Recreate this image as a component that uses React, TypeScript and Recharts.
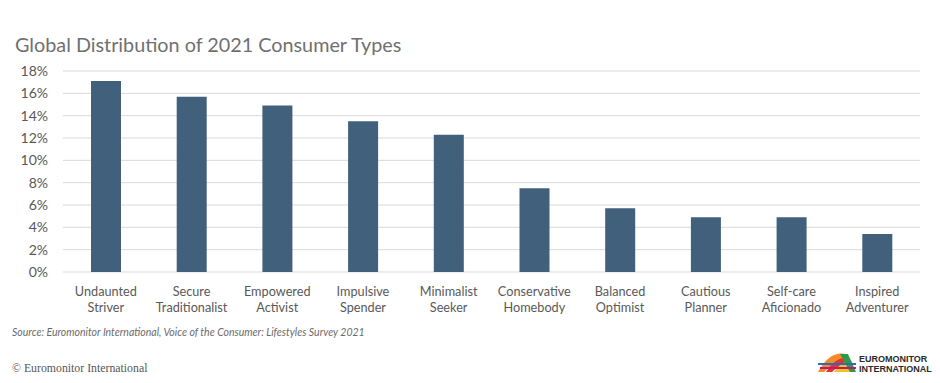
import React from "react";
import { BarChart, Bar, XAxis, YAxis, CartesianGrid } from "recharts";

const categories = [
  "Undaunted Striver",
  "Secure Traditionalist",
  "Empowered Activist",
  "Impulsive Spender",
  "Minimalist Seeker",
  "Conservative Homebody",
  "Balanced Optimist",
  "Cautious Planner",
  "Self-care Aficionado",
  "Inspired Adventurer",
];
const shares = [17.1, 15.7, 14.9, 13.5, 12.3, 7.5, 5.7, 4.9, 4.9, 3.4];
const yTicks = [0, 2, 4, 6, 8, 10, 12, 14, 16, 18];

const title = "Global Distribution of 2021 Consumer Types";
const source = "Source: Euromonitor International, Voice of the Consumer: Lifestyles Survey 2021";
const copyright = "© Euromonitor International";

const data = categories.map((c, i) => ({ name: c, value: shares[i] }));

const LABEL_COLOR = "#595959";
const FONT = "Lato, 'Open Sans', sans-serif";

const XTick = (props: any) => {
  const { x, y, payload } = props;
  const s: string = payload.value;
  const idx = s.indexOf(" ");
  const l1 = idx > 0 ? s.slice(0, idx) : s;
  const l2 = idx > 0 ? s.slice(idx + 1) : "";
  return (
    <g>
      <text x={x} y={y + 24} textAnchor="middle" fill={LABEL_COLOR} fontSize={12.7} fontFamily={FONT}>
        {l1}
      </text>
      <text x={x} y={y + 40} textAnchor="middle" fill={LABEL_COLOR} fontSize={12.7} fontFamily={FONT}>
        {l2}
      </text>
    </g>
  );
};

export default function App() {
  return (
    <div style={{ position: "absolute", left: 0, top: 0, width: 940, height: 383, background: "#fff" }}>
      <BarChart
        width={940}
        height={383}
        data={data}
        margin={{ top: 71, right: 20, bottom: 0, left: 0 }}
        barCategoryGap={0}
      >
        <CartesianGrid vertical={false} stroke="#d9d9d9" strokeWidth={1} />
        <XAxis
          dataKey="name"
          axisLine={false}
          tickLine={false}
          tickSize={0}
          tickMargin={0}
          interval={0}
          tick={<XTick />}
          height={111}
        />
        <YAxis
          domain={[0, 18]}
          ticks={yTicks}
          interval={0}
          width={63}
          axisLine={false}
          tickLine={false}
          tickSize={0}
          tickMargin={15}
          tickFormatter={(v: number) => `${v}%`}
          tick={{ fill: LABEL_COLOR, fontSize: 14, fontFamily: FONT }}
        />
        <Bar dataKey="value" fill="#40607b" barSize={30} isAnimationActive={false} />
      </BarChart>
      <svg
        width={940}
        height={383}
        style={{ position: "absolute", left: 0, top: 0, pointerEvents: "none" }}
      >
        <text x={15} y={52} fill="#707070" fontSize={19.8} fontFamily={FONT}>
          {title}
        </text>
        <text x={12} y={336} fill="#6b6b6b" fontSize={10.5} fontStyle="italic" fontFamily={FONT}>
          {source}
        </text>
        <text x={12} y={372} fill="#555" fontSize={11.8} fontFamily="'Liberation Serif', serif">
          {copyright}
        </text>
        <g>
          <path d="M818 372 Q830 350 846 354 L852 372 L846 372 Q838 358 824 372 Z" fill="#f28c28" />
          <path d="M826 372 Q836 356 848 358 L852 372 L848 372 Q842 362 832 372 Z" fill="#e5322d" />
          <path d="M834 372 Q842 360 852 361 L854 372 Z" fill="#f6c21c" />
          <path d="M840 354 L848 354 L856 372 L850 372 Z" fill="#2e9a47" />
          <path d="M818 363 L856 363 L856 365 L818 365 Z" fill="#2a6db5" />
          <path d="M820 367 L856 367 L856 369 L820 369 Z" fill="#c0187a" />
          <text x={859} y={362} fill="#2b2b2b" fontSize={9} fontWeight="bold" fontFamily="'Liberation Sans', Arial, sans-serif">
            EUROMONITOR
          </text>
          <text x={859} y={372} fill="#2b2b2b" fontSize={9} fontWeight="bold" fontFamily="'Liberation Sans', Arial, sans-serif">
            INTERNATIONAL
          </text>
        </g>
      </svg>
    </div>
  );
}
